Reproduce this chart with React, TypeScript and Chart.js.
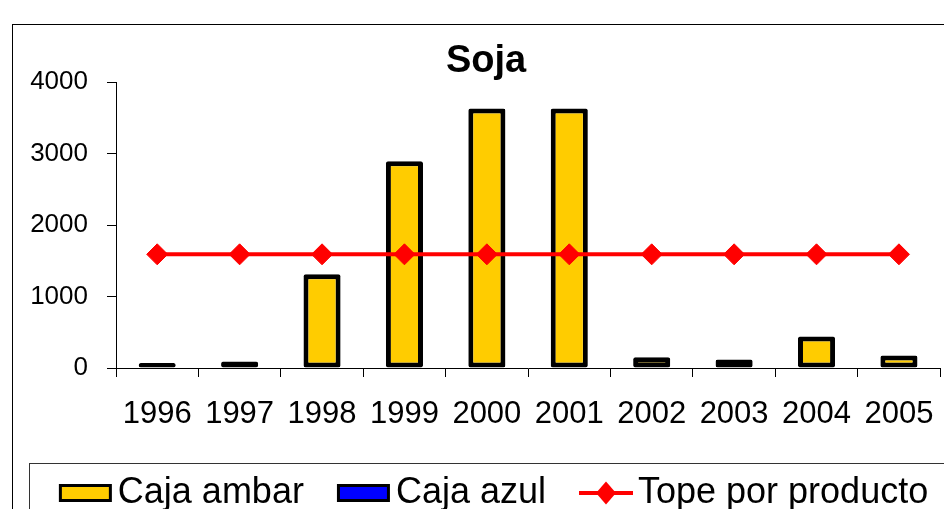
import React, { useEffect, useRef } from "react";
import { Chart, registerables } from "chart.js";

Chart.register(...registerables);

const categories = ["1996", "1997", "1998", "1999", "2000", "2001", "2002", "2003", "2004", "2005"];
const cajaAmbar = [50, 90, 1310, 2890, 3630, 3630, 150, 120, 440, 175];
const cajaAzul = [0, 0, 0, 0, 0, 0, 0, 0, 0, 0];
const topePorProducto = [1590, 1590, 1590, 1590, 1590, 1590, 1590, 1590, 1590, 1590];
const yTicks = [0, 1000, 2000, 3000, 4000];
const seriesNames = ["Caja ambar", "Caja azul", "Tope por producto"];

const AMBER = "#FFCC00";
const BLUE = "#0000FF";
const RED = "#FF0000";
const FONT = "'Liberation Sans', Arial, sans-serif";

function makeBoxIcon(fill: string): HTMLCanvasElement {
  const c = document.createElement("canvas");
  c.width = 82;
  c.height = 24;
  const g = c.getContext("2d")!;
  g.fillStyle = "#000";
  g.fillRect(28, 3, 53, 18);
  g.fillStyle = fill;
  g.fillRect(31, 6, 47, 12);
  return c;
}

function makeLineIcon(): HTMLCanvasElement {
  const c = document.createElement("canvas");
  c.width = 82;
  c.height = 24;
  const g = c.getContext("2d")!;
  g.fillStyle = RED;
  g.fillRect(28, 10, 54, 4);
  g.beginPath();
  g.moveTo(55, 0.5);
  g.lineTo(65, 12);
  g.lineTo(55, 23.5);
  g.lineTo(45, 12);
  g.closePath();
  g.fill();
  return c;
}

const legendFrame = {
  id: "legendFrame",
  afterDraw(chart: any) {
    const lg = chart.legend;
    if (!lg) return;
    const ctx = chart.ctx;
    ctx.save();
    ctx.strokeStyle = "#333";
    ctx.lineWidth = 1;
    ctx.strokeRect(lg.left + 10.5, lg.top + 6.5, chart.width + 20, 200);
    ctx.restore();
  },
};

export default function App() {
  const ref = useRef<HTMLCanvasElement>(null);

  useEffect(() => {
    if (!ref.current) return;
    const icons = [makeBoxIcon(AMBER), makeBoxIcon(BLUE), makeLineIcon()];
    const chart = new Chart(ref.current, {
      type: "bar",
      data: {
        labels: categories,
        datasets: [
          {
            type: "bar",
            label: seriesNames[0],
            data: cajaAmbar,
            backgroundColor: AMBER,
            borderColor: "#000",
            borderWidth: 5,
            borderSkipped: false,
            borderRadius: 2,
            minBarLength: 5,
            grouped: false,
            categoryPercentage: 1,
            barPercentage: 0.45,
            order: 2,
          } as any,
          {
            type: "bar",
            label: seriesNames[1],
            data: cajaAzul,
            backgroundColor: BLUE,
            borderColor: "#000",
            borderWidth: 0,
            grouped: false,
            categoryPercentage: 1,
            barPercentage: 0.45,
            order: 3,
          } as any,
          {
            type: "line",
            label: seriesNames[2],
            data: topePorProducto,
            borderColor: RED,
            backgroundColor: RED,
            borderWidth: 4,
            pointStyle: "rectRot",
            pointRadius: 10.5,
            pointBorderWidth: 1,
            pointBackgroundColor: RED,
            pointBorderColor: RED,
            fill: false,
            order: 1,
          } as any,
        ],
      },
      options: {
        animation: false,
        responsive: false,
        maintainAspectRatio: false,
        layout: { padding: { left: 6, right: 0, top: 0, bottom: 0 } },
        plugins: {
          title: {
            display: true,
            text: "Soja",
            color: "#000",
            font: { family: FONT, size: 38, weight: "bold", lineHeight: 1 },
            padding: { top: 18, bottom: 1 },
          },
          legend: {
            display: true,
            position: "bottom",
            labels: {
              color: "#000",
              font: { family: FONT, size: 36 },
              usePointStyle: true,
              pointStyleWidth: 56,
              padding: 18,
              generateLabels: () =>
                seriesNames.map((name, i) => ({
                  text: name,
                  pointStyle: icons[i] as any,
                  fillStyle: "transparent",
                  strokeStyle: "transparent",
                  lineWidth: 0,
                  hidden: false,
                  datasetIndex: i,
                  fontColor: "#000",
                })),
            },
            onClick: () => {},
          },
          tooltip: { enabled: false },
        },
        scales: {
          x: {
            type: "category",
            offset: true,
            grid: {
              display: true,
              offset: true,
              drawOnChartArea: false,
              drawTicks: true,
              tickLength: 9,
              color: "#000",
            },
            border: { display: true, color: "#000", width: 1 },
            ticks: {
              color: "#000",
              font: { family: FONT, size: 31 },
              padding: 19,
              maxRotation: 0,
              autoSkip: false,
            },
            afterFit: (s: any) => {
              s.height = 89;
            },
          },
          y: {
            type: "linear",
            min: 0,
            max: 4000,
            afterBuildTicks: (s: any) => {
              s.ticks = yTicks.map((v) => ({ value: v }));
            },
            grid: {
              display: true,
              drawOnChartArea: false,
              drawTicks: true,
              tickLength: 9,
              color: "#000",
            },
            border: { display: true, color: "#000", width: 1 },
            ticks: {
              color: "#000",
              font: { family: FONT, size: 26 },
              padding: 19,
              callback: (v: any) => String(v),
            },
            afterFit: (s: any) => {
              s.width = 97;
            },
          },
        },
      },
      plugins: [legendFrame],
    });
    return () => chart.destroy();
  }, []);

  return (
    <div
      style={{
        position: "fixed",
        left: 0,
        top: 0,
        width: 944,
        height: 509,
        overflow: "hidden",
        background: "#fff",
      }}
    >
      <div
        style={{
          position: "absolute",
          left: 12,
          top: 24,
          width: 1000,
          height: 600,
          border: "1px solid #000",
          boxSizing: "border-box",
        }}
      >
        <canvas
          ref={ref}
          width={940}
          height={496}
          style={{ position: "absolute", left: 0, top: 0, width: 940, height: 496 }}
        />
      </div>
    </div>
  );
}
